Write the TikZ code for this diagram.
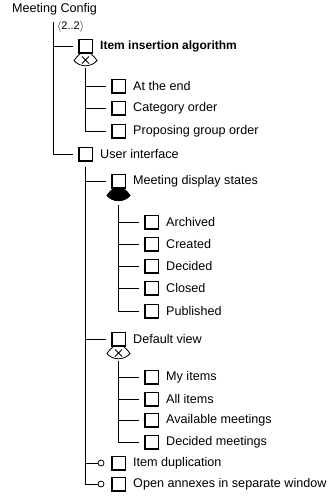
\documentclass[tikz,border=0pt]{standalone}
\usepackage{fontspec}
\setmainfont{Liberation Sans}
\begin{document}
\begin{tikzpicture}[x=1pt,y=-1pt,
  feat/.style={draw, line width=1.5pt, minimum size=13.5pt, inner sep=0pt},
  lbl/.style={anchor=west, inner sep=0pt, font=\fontsize{12.6}{14}\selectfont},
  lblb/.style={lbl, font=\fontsize{12}{14}\selectfont\bfseries},
  conn/.style={line width=0.8pt, shorten >=5pt},
  link/.style={line width=0.8pt},
  opt/.style={circle, draw, line width=0.8pt, fill=white, minimum size=6pt, inner sep=0pt},
  grp/.style={line width=0.8pt},
  xorgrp/.style={grp, fill=white},
  orgrp/.style={grp, fill=black},
  fan/.pic={\path[pic actions] (-5,0) .. controls (-8,2) and (-10,5) .. (-11.5,7)
      .. controls (-6,14) and (6,14) .. (11.5,7)
      .. controls (10,5) and (8,2) .. (5,0) -- cycle;},
  cross/.pic={\draw[grp] (-3.5,3) -- (3.5,10) (-3.5,10) -- (3.5,3);}]
\useasboundingbox (0,0) rectangle (330,496);

% root and its cardinality
\node[lbl] (root) at (12,9) {Meeting Config};
\node[anchor=west, inner sep=0pt, font=\fontsize{11}{12}\selectfont] (card) at (57,27) {$\langle$2..2$\rangle$};
\coordinate (t0) at (53,22);

% level 1 features
\node[feat] (ii) at (85.5,46) {};
\node[lblb] (iiT) at ([xshift=7pt]ii.east) {Item insertion algorithm};
\node[feat] (ui) at (85.5,154) {};
\node[lbl] (uiT) at ([xshift=7pt]ui.east) {User interface};

\draw[conn] (t0) |- (ii.west);
\draw[conn] (t0) |- (ui.west);

% item insertion alternatives
\node[feat] (ate) at (118.5,86) {};
\node[lbl] at ([xshift=7pt]ate.east) {At the end};
\node[feat] (cat) at (118.5,108) {};
\node[lbl] at ([xshift=7pt]cat.east) {Category order};
\node[feat] (pgo) at (118.5,131) {};
\node[lbl] at ([xshift=7pt]pgo.east) {Proposing group order};

\pic[draw, xorgrp] at (ii.south) {fan};
\pic at (ii.south) {cross};
\coordinate (g1) at ([yshift=-14pt]ii.south);
\draw[conn] (g1) |- (ate.west);
\draw[conn] (g1) |- (cat.west);
\draw[conn] (g1) |- (pgo.west);

% user interface children
\node[feat] (mds) at (118.5,181) {};
\node[lbl] at ([xshift=7pt]mds.east) {Meeting display states};
\node[feat] (dv) at (118.5,339) {};
\node[lbl] at ([xshift=7pt]dv.east) {Default view};
\node[feat] (dup) at (118.5,463) {};
\node[lbl] at ([xshift=7pt]dup.east) {Item duplication};
\node[feat] (oa) at (118.5,484) {};
\node[lbl] at ([xshift=7pt]oa.east) {Open annexes in separate window};
\node[opt] (o1) at (101,463) {};
\node[opt] (o2) at (101,484) {};

\coordinate (g2) at ([yshift=-5pt]ui.south);
\draw[conn] (g2) |- (mds.west);
\draw[conn] (g2) |- (dv.west);
\draw[link] (g2) |- (o1.west);
\draw[link] (g2) |- (o2.west);

% meeting display states (or group)
\node[feat] (arc) at (151.5,222) {};
\node[lbl] at ([xshift=7pt]arc.east) {Archived};
\node[feat] (cre) at (151.5,244) {};
\node[lbl] at ([xshift=7pt]cre.east) {Created};
\node[feat] (dec) at (151.5,266) {};
\node[lbl] at ([xshift=7pt]dec.east) {Decided};
\node[feat] (clo) at (151.5,288) {};
\node[lbl] at ([xshift=7pt]clo.east) {Closed};
\node[feat] (pub) at (151.5,311) {};
\node[lbl] at ([xshift=7pt]pub.east) {Published};

\pic[draw, orgrp] at (mds.south) {fan};
\coordinate (g3) at ([yshift=-16.5pt]mds.south);
\foreach \n in {arc,cre,dec,clo,pub} \draw[conn] (g3) |- (\n.west);

% default view alternatives
\node[feat] (myi) at (151.5,377) {};
\node[lbl] at ([xshift=7pt]myi.east) {My items};
\node[feat] (all) at (151.5,399) {};
\node[lbl] at ([xshift=7pt]all.east) {All items};
\node[feat] (avm) at (151.5,420) {};
\node[lbl] at ([xshift=7pt]avm.east) {Available meetings};
\node[feat] (dem) at (151.5,442) {};
\node[lbl] at ([xshift=7pt]dem.east) {Decided meetings};

\pic[draw, xorgrp] at (dv.south) {fan};
\pic at (dv.south) {cross};
\coordinate (g4) at ([yshift=-14pt]dv.south);
\foreach \n in {myi,all,avm,dem} \draw[conn] (g4) |- (\n.west);
\end{tikzpicture}
\end{document}
